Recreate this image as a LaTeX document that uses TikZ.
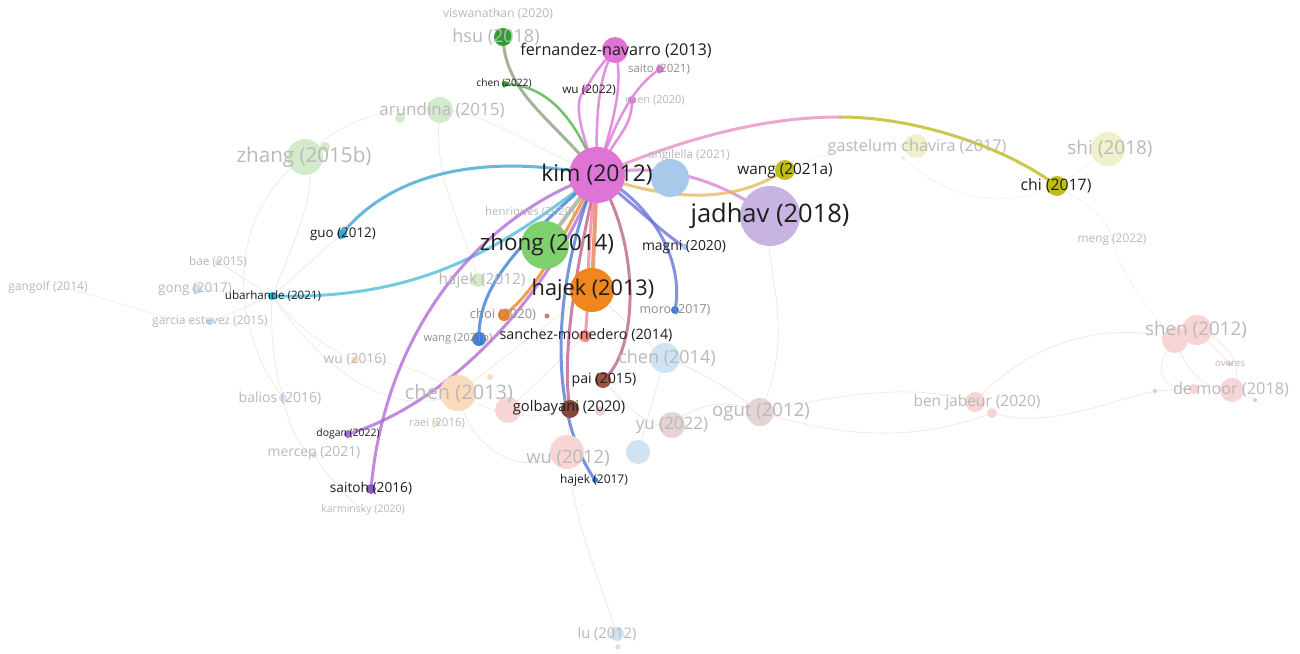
\documentclass[tikz,border=0pt]{standalone}
\usepackage{fontspec}
\setmainfont{Open Sans}
\usetikzlibrary{backgrounds}
\definecolor{ink}{HTML}{1E1E1E}
\definecolor{ghosttxt}{HTML}{B9B9B9}
\definecolor{midtxt}{HTML}{8E8E8E}
\definecolor{kimpink}{HTML}{DF74D7}
\definecolor{zhonggreen}{HTML}{7FCF6E}
\definecolor{hsugreen}{HTML}{2E9E30}
\definecolor{hajekor}{HTML}{F0861E}
\definecolor{lavender}{HTML}{C8B4E2}
\definecolor{skyblue}{HTML}{A9C9EA}
\definecolor{olive}{HTML}{BDBD14}
\definecolor{cyanb}{HTML}{1FB8D0}
\definecolor{blueb}{HTML}{3E7FD6}
\definecolor{brownb}{HTML}{9E5443}
\definecolor{salmon}{HTML}{EE8A8A}
\definecolor{purpleb}{HTML}{A56BD8}
\definecolor{hsulink}{HTML}{8FA27E}
\definecolor{fgreen}{HTML}{D3EBCC}
\definecolor{fyellow}{HTML}{F1F0CC}
\definecolor{fpink}{HTML}{F7D5D5}
\definecolor{forange}{HTML}{FADCBD}
\definecolor{fblue}{HTML}{D0E3F3}
\definecolor{fbrown}{HTML}{E6D4D2}
\definecolor{fpurple}{HTML}{E6D9F3}

\begin{document}
\begin{tikzpicture}[x=1pt, y=-1pt,
   bub/.style={circle, inner sep=0pt, minimum size=#1pt},
   lab/.style={inner sep=0pt, text=ink, font=\fontsize{#1}{#1}\selectfont},
   ghost/.style={lab=#1, text=ghosttxt},
   grey/.style={lab=#1, text=midtxt},
   link/.style={line width=#1pt, line cap=round, draw opacity=0.8},
   faint/.style={line width=0.8pt, draw opacity=0.6}]
 \useasboundingbox (0,0) rectangle (1300,653);

 % nodes: faded ones first
 \node[bub=36, fill=fgreen] (zhang) at (305,157) {};
 \node[bub=10, fill=fgreen] (zhangs) at (325,147) {};
 \node[bub=10, fill=fgreen] (arunds) at (400,118) {};
 \node[bub=26, fill=fgreen] (arund) at (440,110) {};
 \node[bub=4, fill=fgreen] (viswa) at (498,14) {};
 \node[bub=14, fill=fgreen] (hajek12) at (478,280) {};
 \node[bub=10, fill=fblue] (gong) at (197,289) {};
 \node[bub=6, fill=fblue] (bae) at (218,262) {};
 \node[bub=6, fill=fblue!80!cyanb] (garcia) at (210,322) {};
 \node[bub=3, fill=fyellow] (gangolf) at (60,287) {};
 \node[bub=7, fill=forange] (wu16) at (355,360) {};
 \node[bub=8, fill=fpurple] (balios) at (283,398) {};
 \node[bub=6, fill=fpurple] (mercep) at (314,455) {};
 \node[bub=36, fill=forange] (chen13) at (458,393) {};
 \node[bub=6, fill=forange] (raei) at (437,423) {};
 \node[bub=6, fill=forange] (chen13s) at (490,377) {};
 \node[bub=26, fill=fpink] (pinkn) at (508,410) {};
 \node[bub=34, fill=fpink] (wu12) at (567,452) {};
 \node[bub=10, fill=fbrown] (golbs) at (600,411) {};
 \node[bub=24, fill=fblue] (bluen) at (638,452) {};
 \node[bub=30, fill=fblue] (chen14) at (665,358) {};
 \node[bub=26, fill=fbrown] (yu) at (672,425) {};
 \node[bub=28, fill=fbrown] (ogut) at (760,412) {};
 \node[bub=20, fill=fpink] (benj) at (975,402) {};
 \node[bub=10, fill=fpink] (benjs) at (992,413) {};
 \node[bub=26, fill=fpink] (shena) at (1175,340) {};
 \node[bub=30, fill=fpink] (shenb) at (1197,330) {};
 \node[bub=4, fill=fpink!70!salmon] (overes) at (1230,364) {};
 \node[bub=10, fill=fpink] (demoors) at (1194,389) {};
 \node[bub=24, fill=fpink] (demoor) at (1232,390) {};
 \node[bub=4, fill=fpink!70!salmon] (demoort) at (1255,400) {};
 \node[bub=4, fill=fpink!70!salmon] (pedn) at (1155,391) {};
 \node[bub=24, fill=fyellow] (gast) at (916,146) {};
 \node[bub=4, fill=fyellow] (gasts) at (903,158) {};
 \node[bub=34, fill=fyellow] (shi) at (1108,149) {};
 \node[bub=3, fill=fyellow] (meng) at (1112,240) {};
 \node[bub=14, fill=fblue] (lu) at (617,634) {};
 \node[bub=5, fill=fblue] (lus) at (618,647) {};
 \node[bub=3, fill=fblue] (angilt) at (689,155) {};
 \node[bub=3, fill=fgreen] (henr) at (530,213) {};
 \node[bub=3, fill=fpurple] (karm) at (363,510) {};
 % nodes: highlighted ones
 \node[bub=38, fill=skyblue] (angil) at (670,178) {};
 \node[bub=60, fill=lavender] (jadhav) at (770,216) {};
 \node[bub=48, fill=zhonggreen] (zhong) at (545,245) {};
 \node[bub=44, fill=hajekor] (hajek13) at (592,290) {};
 \node[bub=56, fill=kimpink] (kim) at (597,175) {};
 \node[bub=26, fill=kimpink] (fern) at (615,50) {};
 \node[bub=8, fill=kimpink] (saito) at (660,69) {};
 \node[bub=8, fill=kimpink] (chen20) at (632,100) {};
 \node[bub=6, fill=kimpink] (wu22) at (586,89) {};
 \node[bub=18, fill=hsugreen] (hsu) at (503,37) {};
 \node[bub=6, fill=hsugreen] (chen22) at (505,84) {};
 \node[bub=10, fill=cyanb] (guo) at (342,234) {};
 \node[bub=8, fill=cyanb!70!blueb] (ubar) at (272,296) {};
 \node[bub=12, fill=hajekor] (choi) at (504,315) {};
 \node[bub=5, fill=brownb!70!white] (choin) at (547,316) {};
 \node[bub=14, fill=blueb] (wangb) at (479,339) {};
 \node[bub=12, fill=salmon] (sanchez) at (585,336) {};
 \node[bub=8, fill=blueb] (moro) at (675,310) {};
 \node[bub=6, fill=skyblue] (magni) at (685,247) {};
 \node[bub=20, fill=olive] (wang21a) at (785,170) {};
 \node[bub=20, fill=olive] (chi) at (1057,186) {};
 \node[bub=16, fill=brownb] (pai) at (603,380) {};
 \node[bub=18, fill=brownb!85!black] (golb) at (570,409) {};
 \node[bub=6, fill=blueb] (hajek17) at (595,480) {};
 \node[bub=8, fill=purpleb] (dogan) at (348,434) {};
 \node[bub=10, fill=purpleb!85!black] (saitoh) at (371,489) {};
 \coordinate (chimid) at (840,117);

 \begin{scope}[on background layer]
  \fill[white] (0,0) rectangle (1300,653);
  % faint links
  \draw[faint, fgreen!80!black!40] (zhang.center) .. controls (340,120) and (390,105) .. (arund.center);
  \draw[faint, fgreen] (arund.center) .. controls (480,110) and (520,140) .. (kim.center);
  \draw[faint, fgreen] (zhang.center) .. controls (230,210) and (225,320) .. (balios.center);
  \draw[faint, fgreen] (arund.center) .. controls (430,180) and (470,240) .. (hajek12.center);
  \draw[faint, fblue] (ubar.center) -- (gong.center);
  \draw[faint, fblue] (ubar.center) -- (bae.center);
  \draw[faint, fblue] (ubar.center) -- (garcia.center);
  \draw[faint, fblue] (ubar.center) .. controls (300,230) and (320,180) .. (zhang.center);
  \draw[faint, fblue] (ubar.center) .. controls (300,330) and (330,350) .. (wu16.center);
  \draw[faint, fblue] (ubar.center) .. controls (270,340) and (275,370) .. (balios.center);
  \draw[faint, fblue] (ubar.center) -- (guo.center);
  \draw[faint, fblue] (ubar.center) .. controls (330,380) and (400,420) .. (chen13.center);
  \draw[faint, fyellow!70!black!30] (gangolf.center) .. controls (120,300) and (170,325) .. (garcia.center);
  \draw[faint, fpurple] (balios.center) .. controls (290,430) and (300,450) .. (mercep.center);
  \draw[faint, fpurple] (mercep.center) .. controls (330,480) and (350,500) .. (karm.center);
  \draw[faint, forange] (wu16.center) .. controls (400,360) and (430,375) .. (chen13.center);
  \draw[faint, forange] (chen13.center) -- (hajek13.center);
  \draw[faint, forange] (chen13.center) .. controls (500,420) and (540,420) .. (golb.center);
  \draw[faint, fpink] (pinkn.center) -- (sanchez.center);
  \draw[faint, fpink] (wu12.center) -- (golb.center);
  \draw[faint, fpink] (wu12.center) .. controls (520,480) and (470,450) .. (chen13.center);
  \draw[faint, fblue] (wu12.center) .. controls (575,530) and (600,580) .. (lu.center);
  \draw[faint, fblue] (bluen.center) -- (chen14.center);
  \draw[faint, fblue] (chen14.center) -- (hajek13.center);
  \draw[faint, fbrown] (yu.center) .. controls (700,400) and (730,400) .. (ogut.center);
  \draw[faint, fbrown] (chen14.center) .. controls (700,370) and (730,390) .. (ogut.center);
  \draw[faint, fbrown] (pai.center) .. controls (630,410) and (650,430) .. (yu.center);
  \draw[faint, fpink] (ogut.center) .. controls (860,390) and (920,385) .. (benj.center);
  \draw[faint, fpink] (ogut.center) .. controls (850,440) and (920,440) .. (benjs.center);
  \draw[faint, fpink] (benj.center) .. controls (1030,340) and (1110,320) .. (shena.center);
  \draw[faint, fpink] (benjs.center) .. controls (1050,430) and (1110,400) .. (pedn.center);
  \draw[faint, fpink] (pedn.center) -- (demoors.center);
  \draw[faint, fpink] (shena.center) .. controls (1150,370) and (1160,390) .. (demoors.center);
  \draw[faint, fpink] (shena.center) .. controls (1190,380) and (1210,390) .. (demoor.center);
  \draw[faint, fpink] (shenb.center) .. controls (1230,340) and (1245,370) .. (demoor.center);
  \draw[faint, fpink] (shenb.center) -- (overes.center);
  \draw[faint, fpink] (demoor.center) -- (demoort.center);
  \draw[faint, fpink] (ogut.center) .. controls (800,330) and (760,260) .. (jadhav.center);
  \draw[faint, fyellow!80!black!30] (wang21a.center) .. controls (830,150) and (880,140) .. (gast.center);
  \draw[faint, fyellow!80!black!30] (gasts.center) .. controls (950,200) and (1000,210) .. (chi.center);
  \draw[faint, fyellow!80!black!30] (chi.center) .. controls (1080,170) and (1095,160) .. (shi.center);
  \draw[faint, fyellow!80!black!30] (chi.center) .. controls (1100,210) and (1110,225) .. (meng.center);
  \draw[faint, fyellow!80!black!30] (meng.center) .. controls (1120,270) and (1140,300) .. (shena.center);
  % bold links out of kim
  \draw[link=3, draw=hsulink] (hsu.center) .. controls (505,95) and (555,120) .. (kim.center);
  \draw[link=2.5, draw=hsugreen!60!zhonggreen] (chen22.center) .. controls (545,85) and (575,115) .. (kim.center);
  \draw[link=2.5, draw=kimpink] (kim.center) .. controls (595,110) and (600,70) .. (fern.center);
  \draw[link=2.5, draw=kimpink] (fern.center) .. controls (625,85) and (612,125) .. (kim.center);
  \draw[link=2.5, draw=kimpink] (kim.center) .. controls (580,130) and (572,100) .. (wu22.center);
  \draw[link=2.5, draw=kimpink] (wu22.center) .. controls (596,70) and (605,60) .. (fern.center);
  \draw[link=2.5, draw=kimpink] (kim.center) .. controls (615,120) and (635,85) .. (saito.center);
  \draw[link=2.5, draw=kimpink] (kim.center) .. controls (615,135) and (632,130) .. (chen20.center);
  \draw[link=3, draw=cyanb!75!purpleb] (guo.center) .. controls (385,180) and (470,150) .. (kim.center);
  \draw[link=3, draw=cyanb!65!skyblue] (ubar.center) .. controls (420,300) and (500,250) .. (kim.center);
  \draw[link=3, draw=purpleb!75!kimpink] (kim.center) .. controls (480,215) and (385,330) .. (saitoh.center);
  \draw[link=3, draw=purpleb!75!kimpink] (dogan.center) .. controls (430,410) and (540,320) .. (kim.center);
  \draw[link=3, draw=blueb] (wangb.center) .. controls (478,290) and (510,250) .. (kim.center);
  \draw[link=3, draw=hajekor] (choi.center) .. controls (540,290) and (570,220) .. (kim.center);
  \draw[link=4, draw=hajekor!70!kimpink] (kim.center) -- (hajek13.center);
  \draw[link=4, draw=zhonggreen!60!kimpink] (kim.center) -- (zhong.center);
  \draw[link=3, draw=salmon!80!kimpink] (kim.center) .. controls (585,250) and (590,300) .. (sanchez.center);
  \draw[link=3, draw=kimpink!50!brownb] (kim.center) .. controls (640,240) and (640,350) .. (pai.center);
  \draw[link=3, draw=brownb!50!kimpink] (kim.center) .. controls (580,250) and (560,350) .. (golb.center);
  \draw[link=3, draw=blueb!80!purpleb] (kim.center) .. controls (560,260) and (540,400) .. (hajek17.center);
  \draw[link=3, draw=blueb!60!purpleb] (kim.center) .. controls (650,200) and (685,260) .. (moro.center);
  \draw[link=3, draw=purpleb!50!blueb] (kim.center) .. controls (640,210) and (665,235) .. (magni.center);
  \draw[link=3, draw=kimpink!70!lavender] (kim.center) .. controls (660,160) and (720,180) .. (jadhav.center);
  \draw[link=3, draw=olive!45!hajekor!70!white] (kim.center) .. controls (680,205) and (740,200) .. (wang21a.center);
  \draw[link=3, draw=kimpink!60!salmon!85!white] (kim.center) .. controls (680,140) and (760,117) .. (chimid);
  \draw[link=3, draw=olive!90!salmon] (chimid) .. controls (920,117) and (1010,150) .. (chi.center);
 \end{scope}

 % labels
 \node[ghost=12.2] (viswat) at (viswa) {viswanathan (2020)};
 \node[ghost=18] (hsut) at (496,37) {hsu (2018)};
 \node[ghost=20.6] (zhangt) at (304,157) {zhang (2015b)};
 \node[ghost=17] (arundt) at (442,110) {arundina (2015)};
 \node[ghost=11.4] (henrt) at (henr) {henriques (2020)};
 \node[ghost=15.4] (hajek12t) at (482,280) {hajek (2012)};
 \node[ghost=11.9] (baet) at (bae) {bae (2015)};
 \node[ghost=13.5] (gongt) at (195,289) {gong (2017)};
 \node[ghost=12] (garciat) at (garcia) {garcia estevez (2015)};
 \node[ghost=12] (gangolft) at (48,287) {gangolf (2014)};
 \node[ghost=13.8] (wu16t) at (wu16) {wu (2016)};
 \node[ghost=14] (baliost) at (280,398) {balios (2016)};
 \node[ghost=13.9] (mercept) at (314,453) {mercep (2021)};
 \node[ghost=10.5] (karmt) at (karm) {karminsky (2020)};
 \node[ghost=20] (chen13t) at (459,393) {chen (2013)};
 \node[ghost=11.4] (raeit) at (raei) {raei (2016)};
 \node[ghost=18.4] (wu12t) at (568,458) {wu (2012)};
 \node[ghost=18] (chen14t) at (667,358) {chen (2014)};
 \node[ghost=17] (yut) at (yu) {yu (2022)};
 \node[ghost=18.6] (ogutt) at (761,412) {ogut (2012)};
 \node[ghost=15.5] (benjt) at (977,402) {ben jabeur (2020)};
 \node[ghost=18.8] (shent) at (1196,330) {shen (2012)};
 \node[ghost=9.7] (overest) at (overes) {overes};
 \node[ghost=16.3] (demoortx) at (1231,390) {de moor (2018)};
 \node[ghost=16.2] (gastt) at (917,147) {gastelum chavira (2017)};
 \node[ghost=19] (shit) at (1110,149) {shi (2018)};
 \node[ghost=11.9] (mengt) at (meng) {meng (2022)};
 \node[ghost=14.7] (lut) at (607,634) {lu (2012)};
 \node[ghost=11.7] (angiltx) at (angilt) {angilella (2021)};
 \node[ghost=11] (chen20t) at (655,100) {chen (2020)};
 \node[grey=11.5] (saitot) at (659,69) {saito (2021)};
 \node[grey=12.5] (morot) at (675,310) {moro (2017)};
 \node[grey=13] (choit) at (503,315) {choi (2020)};
 \node[grey=11] (wangbt) at (458,339) {wang (2021b)};
 \node[lab=16.2] (fernt) at (616,51) {fernandez-navarro (2013)};
 \node[lab=11.8] (wu22t) at (589,90) {wu (2022)};
 \node[lab=10.2] (chen22t) at (504,83) {chen (2022)};
 \node[lab=23] (kimt) at (kim) {kim (2012)};
 \node[lab=25.5] (jadhavt) at (jadhav) {jadhav (2018)};
 \node[lab=22.4] (zhongt) at (547,245) {zhong (2014)};
 \node[lab=21.7] (hajek13t) at (593,290) {hajek (2013)};
 \node[lab=13.4] (guot) at (343,234) {guo (2012)};
 \node[lab=11.6] (ubart) at (273,296) {ubarhande (2021)};
 \node[lab=15.4] (wang21at) at (785,171) {wang (2021a)};
 \node[lab=15.8] (chit) at (1056,186) {chi (2017)};
 \node[lab=13.9] (magnit) at (684,247) {magni (2020)};
 \node[lab=14.3] (sancht) at (586,335) {sanchez-monedero (2014)};
 \node[lab=14.2] (pait) at (604,380) {pai (2015)};
 \node[lab=14.7] (golbt) at (569,408) {golbayani (2020)};
 \node[lab=12] (hajek17t) at (594,480) {hajek (2017)};
 \node[lab=13.7] (saitoht) at (371,488) {saitoh (2016)};
 \node[lab=10.4] (dogant) at (348,434) {dogan (2022)};
\end{tikzpicture}
\end{document}
